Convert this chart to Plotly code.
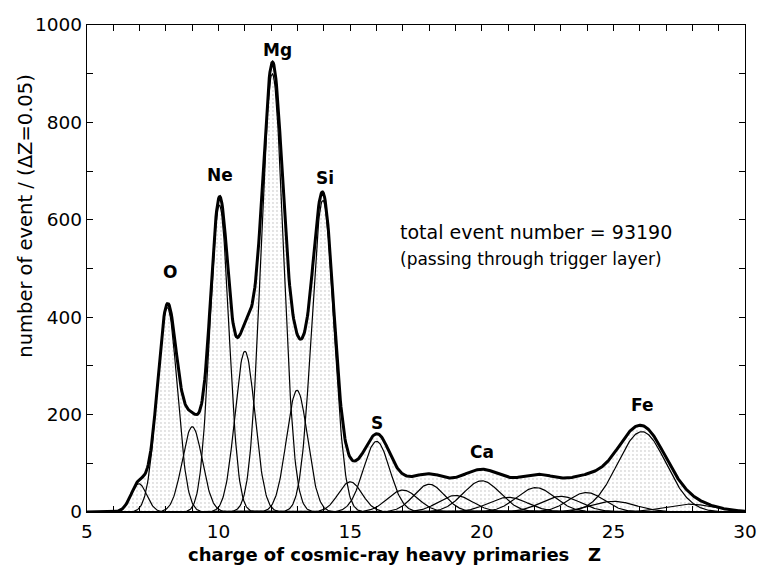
import numpy as np
import plotly.graph_objects as go

# Gaussian fit components, one per element (charge Z)
centers = [6.97, 8.05, 9.0, 10.03, 11.0, 12.04, 12.98, 13.96, 15.0, 16.0, 17.0, 18.0, 19.0,
           20.0, 21.0, 22.05, 23.0, 23.97, 25.0, 26.08, 27.9]
peak_counts = [58, 420, 175, 630, 330, 900, 250, 640, 62, 145, 45, 57, 34, 64, 30, 50, 32, 40, 22, 165, 16]
peak_widths = [0.30, 0.38, 0.38, 0.36, 0.38, 0.42, 0.40, 0.42, 0.45, 0.50, 0.58, 0.58, 0.65,
               0.70, 0.75, 0.72, 0.75, 0.68, 0.85, 0.92, 0.95]

# element labels
label_text = ["O", "Ne", "Mg", "Si", "S", "Ca", "Fe"]
label_z = [8.17, 10.04, 12.24, 14.03, 16.0, 20.0, 26.1]
label_y = [493, 692, 949, 685, 182, 124, 220]

FONT = "DejaVu Sans"

z = np.linspace(5, 30, 1001)
comps = [a * np.exp(-0.5 * ((z - c) / s) ** 2) for c, a, s in zip(centers, peak_counts, peak_widths)]
total = np.sum(comps, axis=0)

fig = go.Figure()

# stippled area under the fitted distribution
fig.add_trace(go.Scatter(
    x=z, y=total, mode="lines", line=dict(width=0, color="rgba(0,0,0,0)"),
    fill="tozeroy", fillcolor="rgba(0,0,0,0)",
    fillpattern=dict(shape=".", fgcolor="#b4b4b4", bgcolor="white", size=4, solidity=0.18),
    hoverinfo="skip", showlegend=False,
))

# individual element components
for comp in comps:
    fig.add_trace(go.Scatter(
        x=z, y=comp, mode="lines", line=dict(color="black", width=1.2),
        hoverinfo="skip", showlegend=False,
    ))

# sum of all components
fig.add_trace(go.Scatter(
    x=z, y=total, mode="lines", line=dict(color="black", width=3),
    hoverinfo="skip", showlegend=False,
))

annotations = []
for t, xz, yv in zip(label_text, label_z, label_y):
    annotations.append(dict(x=xz, y=yv, xref="x", yref="y", text=f"<b>{t}</b>", showarrow=False,
                            font=dict(family=FONT, size=17, color="black")))

annotations += [
    dict(x=16.8, y=575, xref="x", yref="y", xanchor="left", text="total event number = 93190",
         showarrow=False, font=dict(family=FONT, size=19, color="black")),
    dict(x=16.8, y=520, xref="x", yref="y", xanchor="left", text="(passing through trigger layer)",
         showarrow=False, font=dict(family=FONT, size=17, color="black")),
    dict(x=0.468, y=-0.088, xref="paper", yref="paper", xanchor="center", yanchor="middle",
         text="<b>charge of cosmic-ray heavy primaries   Z</b>", showarrow=False,
         font=dict(family=FONT, size=18, color="black")),
    dict(x=-0.093, y=0.608, xref="paper", yref="paper", xanchor="center", yanchor="middle",
         textangle=-90, text="number of event / (\u0394Z=0.05)", showarrow=False,
         font=dict(family=FONT, size=19.5, color="black")),
]

axis_common = dict(
    showline=True, linecolor="black", linewidth=1.3, mirror="ticks",
    ticks="inside", ticklen=6, tickwidth=1.2, tickcolor="black",
    showgrid=False, zeroline=False,
    tickfont=dict(family=FONT, size=18.5, color="black"),
)

fig.update_layout(
    width=769, height=572,
    margin=dict(l=87, r=13, t=25, b=60),
    paper_bgcolor="white", plot_bgcolor="white",
    showlegend=False,
    xaxis=dict(range=[5, 30], tickvals=[5, 10, 15, 20, 25, 30],
               minor=dict(dtick=1, ticks="inside", ticklen=6, tickwidth=1.2, tickcolor="black"),
               ticklabelstandoff=3, **axis_common),
    yaxis=dict(range=[0, 1000], tickvals=[0, 200, 400, 600, 800, 1000],
               minor=dict(dtick=100, ticks="inside", ticklen=6, tickwidth=1.2, tickcolor="black"),
               ticklabelstandoff=0, **axis_common),
    annotations=annotations,
)

fig.write_html("out.html")
